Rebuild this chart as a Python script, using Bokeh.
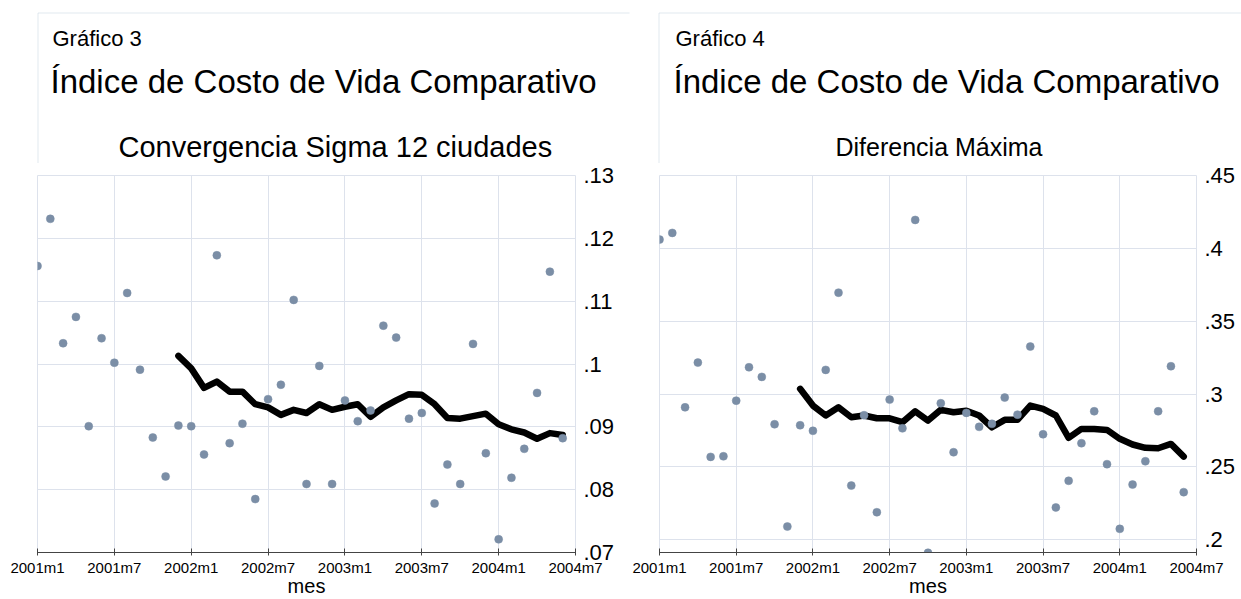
from bokeh.plotting import figure
from bokeh.models import FixedTicker, CustomJSTickFormatter, Label, Range1d, PolyAnnotation
from bokeh.layouts import row, column
from bokeh.embed import file_html
from bokeh.resources import INLINE

FONT = "Liberation Sans"

# ---- data -------------------------------------------------------------
x_tick_values = [0, 6, 12, 18, 24, 30, 36, 42]
x_tick_labels = ["2001m1", "2001m7", "2002m1", "2002m7",
                 "2003m1", "2003m7", "2004m1", "2004m7"]

# monthly values, 2001m1 .. 2004m6
sigma = [0.1156, 0.1231, 0.1033, 0.1075, 0.0901, 0.1041, 0.1002, 0.1113, 0.0991, 0.0883,
         0.0821, 0.0902, 0.0901, 0.0856, 0.1173, 0.0874, 0.0905, 0.0785, 0.0944, 0.0967,
         0.1102, 0.0809, 0.0997, 0.0809, 0.0942, 0.0909, 0.0926, 0.1061, 0.1042, 0.0913,
         0.0922, 0.0778, 0.0840, 0.0809, 0.1032, 0.0858, 0.0721, 0.0819, 0.0865, 0.0954,
         0.1147, 0.0882]
# 12-month average, 2001m12 .. 2004m6
sigma_ma = [0.1013, 0.0993, 0.0962, 0.0972, 0.0956, 0.0956, 0.0936, 0.0931, 0.0919, 0.0927,
            0.0922, 0.0936, 0.0927, 0.0932, 0.0936, 0.0916, 0.0931, 0.0942, 0.0952, 0.0951,
            0.0936, 0.0914, 0.0913, 0.0917, 0.0921, 0.0904, 0.0896, 0.0891, 0.0881, 0.0890,
            0.0887]

maxdiff = [0.4060, 0.4106, 0.2909, 0.3216, 0.2569, 0.2573, 0.2955, 0.3184, 0.3118, 0.2793,
           0.2091, 0.2786, 0.2748, 0.3166, 0.3696, 0.2372, 0.2855, 0.2189, 0.2962, 0.2765,
           0.4195, 0.1911, 0.2937, 0.2601, 0.2871, 0.2775, 0.2796, 0.2976, 0.2859, 0.3326,
           0.2724, 0.2222, 0.2405, 0.2663, 0.2882, 0.2519, 0.2075, 0.2379, 0.2539, 0.2882,
           0.3191, 0.2327]
maxdiff_ma = [0.3036, 0.2921, 0.2853, 0.2909, 0.2841, 0.2853, 0.2834, 0.2834, 0.2807, 0.2882,
              0.2818, 0.2892, 0.2875, 0.2886, 0.2853, 0.2772, 0.2823, 0.2823, 0.2921, 0.2898,
              0.2853, 0.2700, 0.2761, 0.2761, 0.2754, 0.2693, 0.2654, 0.2631, 0.2628, 0.2658,
              0.2571]
ma_first_month = 11  # 2001m12

sigma_ticks = [0.07, 0.08, 0.09, 0.10, 0.11, 0.12, 0.13]
sigma_tick_labels = [".07", ".08", ".09", ".1", ".11", ".12", ".13"]
maxdiff_ticks = [0.20, 0.25, 0.30, 0.35, 0.40, 0.45]
maxdiff_tick_labels = [".2", ".25", ".3", ".35", ".4", ".45"]

main_title = "Índice de Costo de Vida Comparativo"

# ---- helpers ----------------------------------------------------------
JS = """
let best = 0;
for (let i = 0; i < tvals.length; i++) {
  if (Math.abs(tvals[i] - tick) < Math.abs(tvals[best] - tick)) best = i;
}
return tlabels[best];
"""

GRID = "#dde2ec"
BORDER = "#cbd6e4"
DOT = "#7b8ea6"
HEAD_H = 163
PLOT_H = 599 - HEAD_H


def header(width, number, subtitle, sub_left, sub_size, title_left, border_left, border_right):
    h = figure(frame_width=width, frame_height=HEAD_H, x_range=Range1d(0, 1),
               y_range=Range1d(0, 1), x_axis_type=None, y_axis_type=None,
               output_backend="svg", toolbar_location=None, min_border=0)
    h.frame_align = False
    h.outline_line_color = None
    h.background_fill_color = "white"
    h.border_fill_color = "white"
    top = HEAD_H - 12.5
    h.add_layout(PolyAnnotation(xs=[border_left, border_left, border_right, border_left],
                                ys=[-5, top, top, top], xs_units="screen", ys_units="screen",
                                fill_color=None, line_color=BORDER, line_width=1))
    h.add_layout(Label(x=title_left + 2, y=125, x_units="screen", y_units="screen",
                       text="Gráfico %d" % number, text_font=FONT, text_font_size="22px",
                       text_color="black", text_baseline="alphabetic", text_align="left"))
    h.add_layout(Label(x=title_left, y=82, x_units="screen", y_units="screen",
                       text=main_title, text_font=FONT, text_font_size="33px",
                       text_color="black", text_baseline="alphabetic", text_align="left"))
    h.add_layout(Label(x=sub_left, y=17, x_units="screen", y_units="screen",
                       text=subtitle, text_font=FONT, text_font_size=sub_size,
                       text_color="black", text_baseline="alphabetic", text_align="left"))
    return h


def panel(width, mb_left, mb_right, ylo, yticks, ylabels, vals, ma):
    p = figure(width=width, height=PLOT_H, x_range=Range1d(0, 42),
               y_range=Range1d(ylo, max(yticks)),
               y_axis_location="right", output_backend="svg", toolbar_location=None,
               min_border_left=mb_left, min_border_right=mb_right, min_border_top=12,
               min_border_bottom=47)
    p.frame_align = False
    p.background_fill_color = "white"
    p.border_fill_color = "white"
    p.outline_line_color = GRID

    xa = p.xaxis[0]
    xa.ticker = FixedTicker(ticks=x_tick_values)
    xa.formatter = CustomJSTickFormatter(args=dict(tvals=x_tick_values, tlabels=x_tick_labels), code=JS)
    xa.axis_line_color = "#444444"
    xa.major_tick_line_color = "#444444"
    xa.major_tick_in = 4
    xa.major_tick_out = 3
    xa.minor_tick_line_color = None
    xa.minor_tick_in = 0
    xa.minor_tick_out = 0
    xa.major_label_text_font = FONT
    xa.major_label_text_font_size = "15px"
    xa.major_label_text_color = "black"
    xa.major_label_standoff = 3
    xa.axis_label = "mes"
    xa.axis_label_text_font = FONT
    xa.axis_label_text_font_size = "20px"
    xa.axis_label_text_font_style = "normal"
    xa.axis_label_text_color = "black"
    xa.axis_label_standoff = -4

    ya = p.yaxis[0]
    ya.ticker = FixedTicker(ticks=yticks)
    ya.formatter = CustomJSTickFormatter(args=dict(tvals=yticks, tlabels=ylabels), code=JS)
    ya.axis_line_color = None
    ya.major_tick_line_color = None
    ya.minor_tick_line_color = None
    ya.major_tick_in = 0
    ya.major_tick_out = 0
    ya.minor_tick_in = 0
    ya.minor_tick_out = 0
    ya.major_label_text_font = FONT
    ya.major_label_text_font_size = "22px"
    ya.major_label_text_color = "black"
    ya.major_label_standoff = 8

    p.xgrid.ticker = FixedTicker(ticks=x_tick_values)
    p.ygrid.ticker = FixedTicker(ticks=yticks)
    p.xgrid.grid_line_color = GRID
    p.ygrid.grid_line_color = GRID

    months = list(range(len(vals)))
    ma_months = list(range(ma_first_month, ma_first_month + len(ma)))
    p.line(x=ma_months, y=ma, line_color="black", line_width=6.5,
           line_join="round", line_cap="round")
    p.scatter(x=months, y=vals, size=8, fill_color=DOT, line_color=DOT, line_width=0.5)
    return p


h1 = header(630, 3, "Convergencia Sigma 12 ciudades", 118, "29px", 50, 37.5, 629)
h2 = header(611, 4, "Diferencia Máxima", 205, "25px", 43, 28.5, 620)
p1 = panel(630, 37, 55, 0.07, sigma_ticks, sigma_tick_labels, sigma, sigma_ma)
p2 = panel(611, 29, 45, 0.2 - 12.7 / 1457.2, maxdiff_ticks, maxdiff_tick_labels,
           maxdiff, maxdiff_ma)

layout = row(column(h1, p1), column(h2, p2))
open("out.html", "w").write(file_html(layout, INLINE))
